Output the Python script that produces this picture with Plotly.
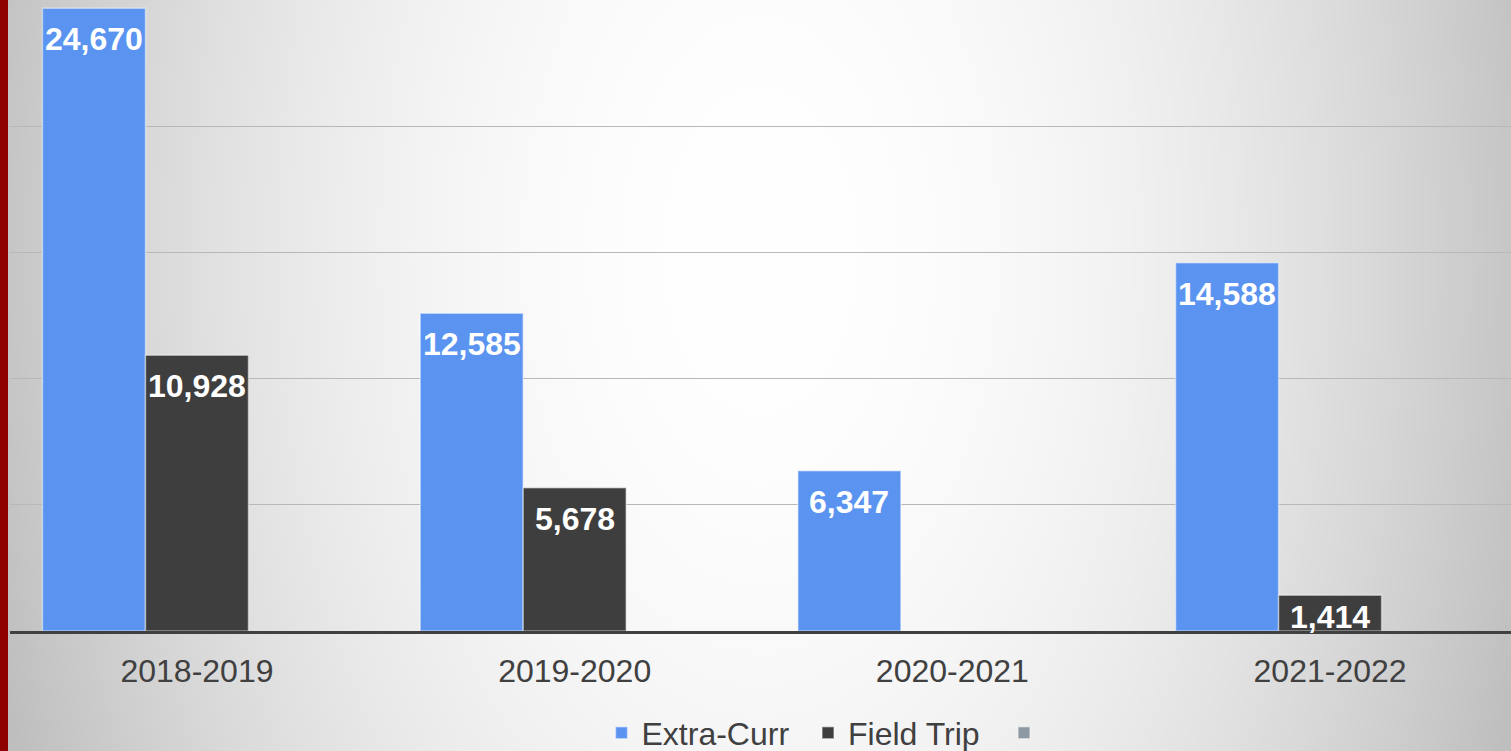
import base64
import struct
import zlib

import numpy as np
import plotly.graph_objects as go

# ---------------- data ----------------
categories = ["2018-2019", "2019-2020", "2020-2021", "2021-2022"]
extra_curr = [24670, 12585, 6347, 14588]
field_trip = [10928, 5678, None, 1414]
third_series = [None, None, None, None]
series_names = ["Extra-Curr", "Field Trip", " "]
y_max = 25000
y_step = 5000

# ---------------- layout constants ----------------
W, H = 1511, 751
ML, MR, MT, MB = 10, 0, 0, 120
PW, PH = W - ML - MR, H - MT - MB
x_range = [-0.495, 3.479]
bargap = 0.182
colors = ["#5A93F0", "#3E3E3E", "#8D9AA3"]
legend_px = [601.5, 808, 1004]   # left edge of each legend entry (px)
FONT = "Liberation Sans, Arial, sans-serif"


# ---------------- background radial gradient (PNG data uri) ----------------
def png_uri(arr):
    h, w, _ = arr.shape
    raw = b"".join(b"\x00" + arr[r].tobytes() for r in range(h))

    def chunk(t, d):
        c = struct.pack(">I", len(d)) + t + d
        return c + struct.pack(">I", zlib.crc32(t + d) & 0xFFFFFFFF)

    png = (b"\x89PNG\r\n\x1a\n"
           + chunk(b"IHDR", struct.pack(">IIBBBBB", w, h, 8, 2, 0, 0, 0))
           + chunk(b"IDAT", zlib.compress(raw, 9))
           + chunk(b"IEND", b""))
    return "data:image/png;base64," + base64.b64encode(png).decode()


gw, gh = 378, 188
gx = (np.arange(gw) + 0.5) * W / gw
gy = (np.arange(gh) + 0.5) * H / gh
XX, YY = np.meshgrid(gx, gy)
d2 = (XX - 760) ** 2 + (0.6 * (YY - 250)) ** 2
val = np.clip(255 - 1.0e-4 * d2, 190, 255).astype(np.uint8)
bg = np.dstack([val, val, val])
bg_uri = png_uri(bg)

# ---------------- figure ----------------
fig = go.Figure()
legend_ids = ["legend", "legend2", "legend3"]
for name, vals, col, lid in zip(series_names, [extra_curr, field_trip, third_series],
                                colors, legend_ids):
    fig.add_trace(go.Bar(
        x=categories, y=vals, name=name, legend=lid,
        marker=dict(color=col, line=dict(color="rgba(255,255,255,0.45)", width=1.5)),
        hoverinfo="x+y+name",
    ))

# value labels (white, bold, inside the top of each bar)
cat_px = PW / (x_range[1] - x_range[0])
bar_px = cat_px * (1 - bargap) / 3
ppu = PH / y_max
annotations = []
for si, vals in enumerate([extra_curr, field_trip]):
    for c, v in zip(categories, vals):
        if v is None:
            continue
        off = min(31, v * ppu - 14)
        annotations.append(dict(
            x=c, y=v, xref="x", yref="y", text=f"{v:,}", showarrow=False,
            xshift=(si - 1) * bar_px, yshift=-off, yanchor="middle", xanchor="center",
            font=dict(family=FONT, size=32, color="white", weight="bold"),
        ))

legend_common = dict(orientation="h", xanchor="left", yref="container",
                     y=(H - 733) / H, yanchor="middle",
                     font=dict(size=32, color="#404040", family=FONT),
                     bgcolor="rgba(0,0,0,0)")
legends = {lid: dict(legend_common, x=(px - ML) / PW)
           for lid, px in zip(legend_ids, legend_px)}

fig.update_layout(
    width=W, height=H,
    margin=dict(l=ML, r=MR, t=MT, b=MB, pad=0, autoexpand=False),
    paper_bgcolor="#dcdcdc",
    plot_bgcolor="rgba(0,0,0,0)",
    barmode="group", bargap=bargap, bargroupgap=0,
    font=dict(family=FONT, color="#404040"),
    showlegend=True,
    xaxis=dict(type="category", range=x_range, showgrid=False, zeroline=False,
               showline=True, linecolor="#404040", linewidth=3, ticks="",
               tickfont=dict(size=32, color="#404040", family=FONT),
               ticklabelstandoff=10, fixedrange=True, automargin=False),
    yaxis=dict(range=[0, y_max], dtick=y_step, showgrid=True, gridcolor="#b8b8b8",
               gridwidth=1, zeroline=False, showline=False, showticklabels=False,
               ticks="", fixedrange=True, automargin=False),
    annotations=annotations,
    images=[dict(source=bg_uri, xref="paper", yref="paper",
                 x=-ML / PW, y=1 + MT / PH, sizex=W / PW, sizey=H / PH,
                 xanchor="left", yanchor="top", sizing="stretch", layer="below")],
    shapes=[dict(type="rect", xref="paper", yref="paper",
                 x0=-ML / PW, x1=-2 / PW, y0=-MB / PH, y1=1 + MT / PH,
                 fillcolor="#8E0000", line=dict(width=0), layer="above")],
    **legends,
)

fig.write_html(
    "out.html",
    config={"displayModeBar": False},
    post_script="document.body.style.margin='0';document.body.style.overflow='hidden';",
)
